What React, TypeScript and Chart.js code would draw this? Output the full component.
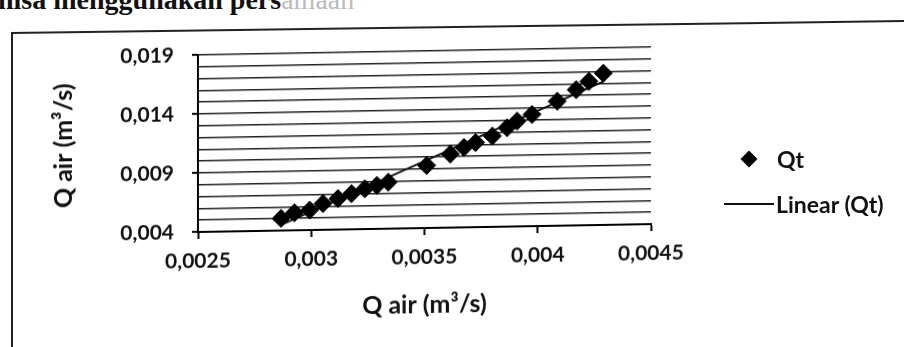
import React, { useEffect, useRef } from 'react';
import { Chart, registerables } from 'chart.js';

Chart.register(...registerables);

// Data (Q air vs Qt, m³/s)
const qAir = [
  0.002867, 0.002926, 0.002993, 0.003052, 0.003118, 0.003178, 0.003237, 0.00329, 0.00334,
  0.00351, 0.003614, 0.003675, 0.003726, 0.0038, 0.003865, 0.003909, 0.003975,
  0.004086, 0.00417, 0.004226, 0.00429,
];
const qt = [
  0.00503, 0.00549, 0.00569, 0.00623, 0.00662, 0.00702, 0.00742, 0.00768, 0.00794,
  0.0093, 0.01023, 0.01077, 0.01117, 0.0117, 0.01238, 0.01293, 0.01346,
  0.01455, 0.0155, 0.01618, 0.01686,
];

const yTickValues = [0.004, 0.009, 0.014, 0.019];
const yTickLabels = ['0,004', '0,009', '0,014', '0,019'];
const xTickValues = [0.0025, 0.003, 0.0035, 0.004, 0.0045];
const xTickLabels = ['0,0025', '0,003', '0,0035', '0,004', '0,0045'];

const seriesName = 'Qt';
const trendName = 'Linear (Qt)';
const xTitle = 'Q air (m³/s)';
const yTitle = 'Q air (m³/s)';
const headerText = 'nisa menggunakan pers';
const headerTail = 'amaan';

const FONT = 'Lato, "Open Sans", sans-serif';

function findLabel(v: number, values: number[], labels: string[]): string {
  for (let i = 0; i < values.length; i++) {
    if (Math.abs(v - values[i]) < 1e-7) return labels[i];
  }
  return '';
}

function linearFit(xs: number[], ys: number[]) {
  const n = xs.length;
  let sx = 0, sy = 0, sxx = 0, sxy = 0;
  for (let i = 0; i < n; i++) {
    sx += xs[i]; sy += ys[i]; sxx += xs[i] * xs[i]; sxy += xs[i] * ys[i];
  }
  const slope = (n * sxy - sx * sy) / (n * sxx - sx * sx);
  const intercept = (sy - slope * sx) / n;
  return { slope, intercept };
}

export default function App() {
  const canvasRef = useRef<HTMLCanvasElement | null>(null);

  useEffect(() => {
    const canvas = canvasRef.current;
    if (!canvas) return;
    const points = qAir.map((x, i) => ({ x, y: qt[i] }));
    const { slope, intercept } = linearFit(qAir, qt);
    const xMin = Math.min(...qAir);
    const xMax = Math.max(...qAir);
    const trend = [
      { x: xMin, y: slope * xMin + intercept },
      { x: xMax, y: slope * xMax + intercept },
    ];

    const chart = new Chart(canvas, {
      type: 'scatter',
      data: {
        datasets: [
          {
            label: seriesName,
            data: points,
            pointStyle: 'rectRot',
            pointRadius: 9,
            backgroundColor: '#000',
            borderColor: '#000',
            borderWidth: 1,
            order: 0,
          },
          {
            label: trendName,
            data: trend,
            showLine: true,
            borderColor: '#111',
            borderWidth: 2,
            pointRadius: 0,
            order: 1,
          } as any,
        ],
      },
      options: {
        responsive: false,
        animation: false,
        events: [],
        layout: { padding: { left: 20, right: 253, top: 55, bottom: 0 } },
        plugins: {
          legend: { display: false },
          tooltip: { enabled: false },
        },
        scales: {
          x: {
            type: 'linear',
            min: 0.0025,
            max: 0.0045,
            afterFit: (s: any) => { s.height = 115; },
            ticks: {
              stepSize: 0.0005,
              autoSkip: false,
              maxRotation: 0,
              padding: 10,
              color: '#111',
              font: { family: FONT, size: 21, weight: 'bold' },
              callback: (v: any) => findLabel(Number(v), xTickValues, xTickLabels),
            },
            grid: {
              drawOnChartArea: false,
              drawTicks: true,
              tickLength: 7,
              tickColor: '#000',
              tickWidth: 2,
            },
            border: { display: true, color: '#000', width: 2 },
            title: {
              display: true,
              text: xTitle,
              color: '#111',
              font: { family: FONT, size: 25, weight: 'bold' },
              padding: { top: 0, bottom: 23 },
            },
          },
          y: {
            type: 'linear',
            min: 0.004,
            max: 0.019,
            afterFit: (s: any) => { s.width = 178; },
            ticks: {
              stepSize: 0.001,
              autoSkip: false,
              padding: 18,
              color: '#111',
              font: { family: FONT, size: 21, weight: 'bold' },
              callback: (v: any) => findLabel(Number(v), yTickValues, yTickLabels),
            },
            grid: {
              color: '#222',
              lineWidth: 1.6,
              drawTicks: true,
              tickLength: 6,
              tickWidth: 2,
              tickColor: (ctx: any) =>
                findLabel(ctx.tick ? ctx.tick.value : NaN, yTickValues, yTickLabels) ? '#000' : 'rgba(0,0,0,0)',
            },
            border: { display: true, color: '#000', width: 2 },
            title: {
              display: true,
              text: yTitle,
              color: '#111',
              font: { family: FONT, size: 25, weight: 'bold' },
              padding: { top: 29, bottom: 0 },
            },
          },
        },
      },
    });
    return () => chart.destroy();
  }, []);

  return (
    <div style={{ position: 'absolute', left: 0, top: 0, width: 904, height: 347, overflow: 'hidden', background: '#fff' }}>
      <div
        style={{
          position: 'absolute', left: -2, top: -14, fontFamily: '"Liberation Serif", serif', fontSize: 28,
          lineHeight: '28px', color: '#111', whiteSpace: 'nowrap', fontWeight: 'bold',
        }}
      >
        {headerText}
        <span style={{ color: '#bbb', fontWeight: 'normal' }}>{headerTail}</span>
      </div>
      <div
        style={{
          position: 'absolute', left: 11, top: 32, width: 900, height: 2, background: '#222',
          transformOrigin: '0 50%', transform: 'rotate(-0.77deg)',
        }}
      />
      <div style={{ position: 'absolute', left: 11, top: 32, width: 2, height: 320, background: '#222' }} />
      <canvas
        ref={canvasRef}
        width={904}
        height={347}
        style={{ position: 'absolute', left: 0, top: 0, transformOrigin: '198px 232px', transform: 'skewY(-1deg)' }}
      />
      <div
        style={{
          position: 'absolute', left: 743, top: 153, width: 12, height: 12, background: '#000',
          transform: 'rotate(45deg)',
        }}
      />
      <div
        style={{
          position: 'absolute', left: 777, top: 145, height: 28, lineHeight: '28px', fontFamily: FONT,
          fontSize: 23, fontWeight: 'bold', color: '#111', whiteSpace: 'nowrap',
        }}
      >
        {seriesName}
      </div>
      <div style={{ position: 'absolute', left: 724, top: 203, width: 50, height: 2, background: '#111' }} />
      <div
        style={{
          position: 'absolute', left: 776, top: 190, height: 28, lineHeight: '28px', fontFamily: FONT,
          fontSize: 23, fontWeight: 'bold', color: '#111', whiteSpace: 'nowrap',
        }}
      >
        {trendName}
      </div>
    </div>
  );
}
